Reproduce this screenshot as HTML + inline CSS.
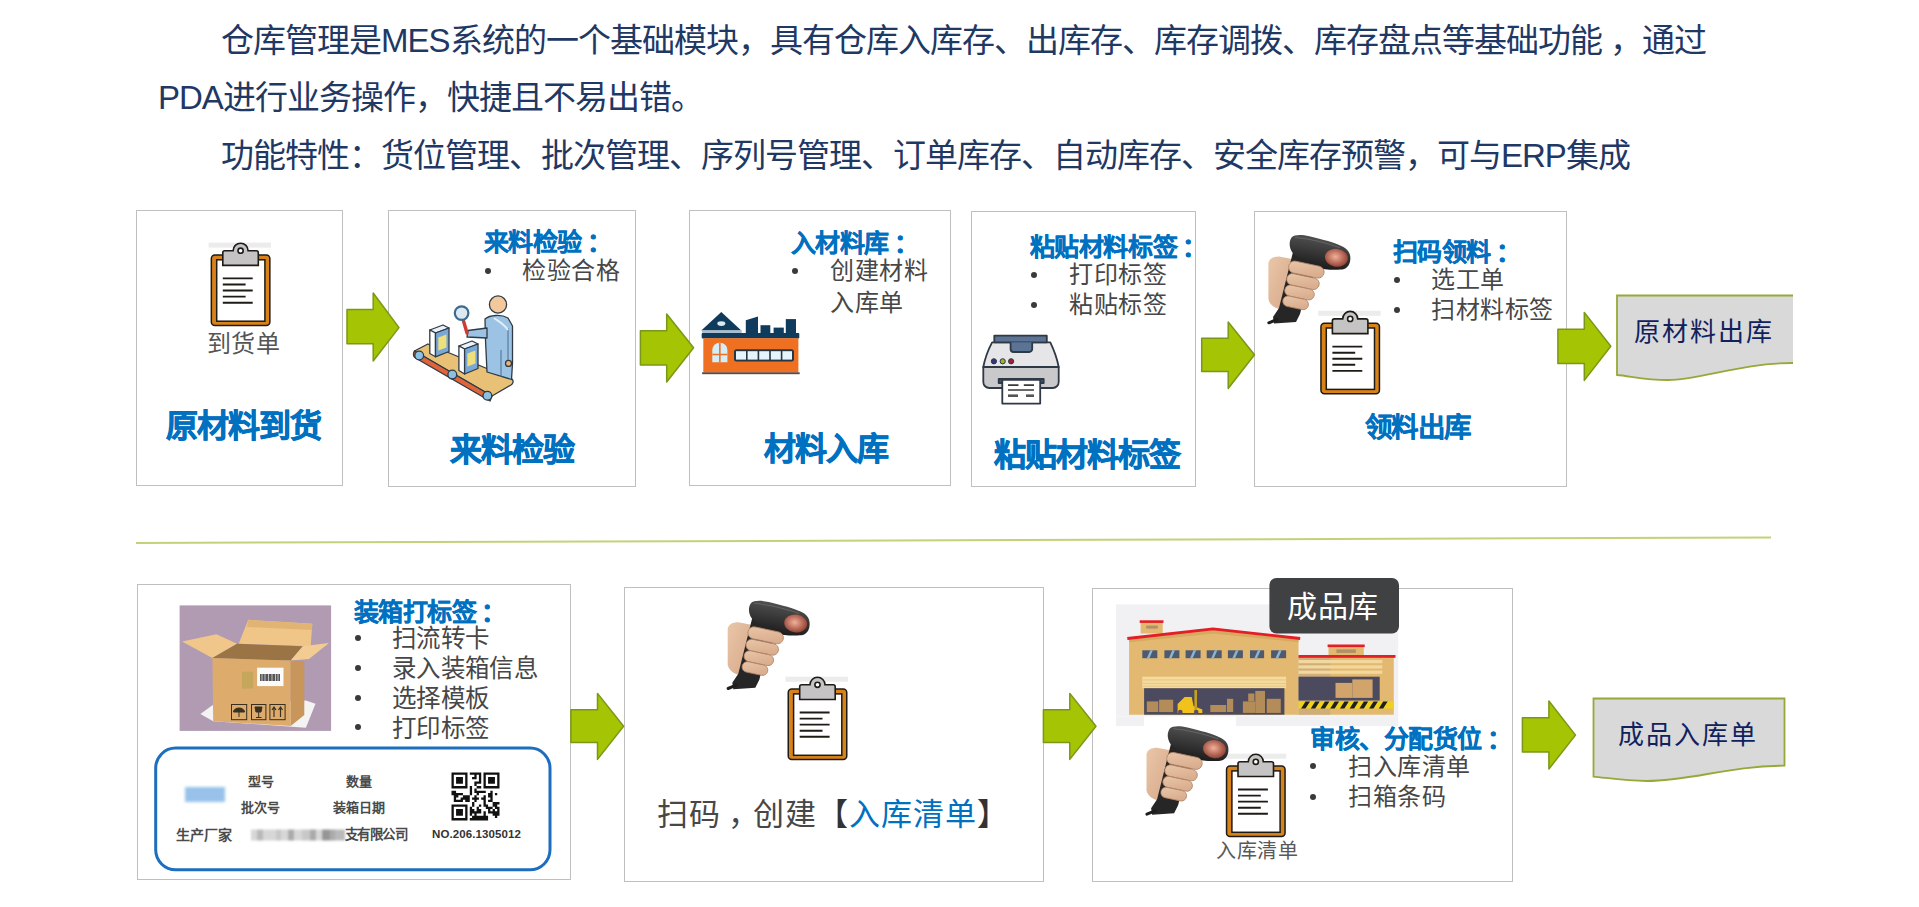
<!DOCTYPE html>
<html lang="zh-CN"><head><meta charset="utf-8">
<style>
html,body{margin:0;padding:0;background:#fff;}
body{width:1919px;height:907px;overflow:hidden;position:relative;font-family:"Liberation Sans",sans-serif;}
.t{position:absolute;white-space:nowrap;line-height:1;}
.p{color:#1f3864;font-size:33px;letter-spacing:-1px;}
.box{position:absolute;border:1px solid #bfbfbf;background:#fff;box-sizing:border-box;}
.hb{color:#0070c0;font-weight:bold;-webkit-text-stroke:0.7px #0070c0;}
.gr{color:#474747;}
.hs{-webkit-text-stroke:0.3px #0070c0 !important;}
.bul{position:absolute;width:6px;height:6px;border-radius:50%;background:#3a3a3a;}
svg{position:absolute;left:0;top:0;}
</style></head><body>

<!-- paragraph -->
<div class="t p" style="left:221px;top:23.5px;">仓库管理是MES系统的一个基础模块，具有仓库入库存、出库存、库存调拨、库存盘点等基础功能 ，通过</div>
<div class="t p" style="left:158px;top:81px;">PDA进行业务操作，快捷且不易出错。</div>
<div class="t p" style="left:221px;top:139px;">功能特性：货位管理、批次管理、序列号管理、订单库存、自动库存、安全库存预警，可与ERP集成</div>

<!-- top boxes -->
<div class="box" style="left:136px;top:210px;width:207px;height:276px;"></div>
<div class="box" style="left:388px;top:210px;width:248px;height:277px;"></div>
<div class="box" style="left:689px;top:210px;width:262px;height:276px;"></div>
<div class="box" style="left:971px;top:211px;width:225px;height:276px;"></div>
<div class="box" style="left:1254px;top:211px;width:313px;height:276px;"></div>

<!-- bottom boxes -->
<div class="box" style="left:137px;top:584px;width:434px;height:296px;"></div>
<div class="box" style="left:624px;top:587px;width:420px;height:295px;"></div>
<div class="box" style="left:1092px;top:588px;width:421px;height:294px;"></div>

<!-- ICONS -->
<svg width="1919" height="907" viewBox="0 0 1919 907">
<defs>
 <symbol id="clipb" viewBox="-3 -14 66 89" width="66" height="89" overflow="visible">
  <rect x="-2" y="-11.6" width="62.4" height="5" fill="#ececec"/>
  <rect x="0.75" y="0.75" width="58.5" height="70.5" rx="3.5" fill="#d8831a" stroke="#1e1a16" stroke-width="1.5"/>
  <rect x="6.1" y="5.6" width="48.2" height="61.4" fill="#fff" stroke="#1e1a16" stroke-width="1.5"/>
  <path d="M12.2,11.2 V-1.5 a2,2 0 0 1 2,-2 H22.5 a7.5,7.5 0 0 1 15,0 H45.7 a2,2 0 0 1 2,2 V11.2 Z" fill="#c4c4c4" stroke="#1e1a16" stroke-width="1.6"/>
  <circle cx="30" cy="-3.5" r="2.6" fill="#fff" stroke="#1e1a16" stroke-width="1.6"/>
  <path d="M12.2,24.2H42.1M12.2,30.3H35M12.2,36.3H42.1M12.2,42.4H35M12.2,48.5H42.1" stroke="#1e1a16" stroke-width="1.9"/>
 </symbol>
 <linearGradient id="hg" x1="0" y1="0" x2="0" y2="1"><stop offset="0" stop-color="#505050"/><stop offset="1" stop-color="#1c1c1c"/></linearGradient>
 <radialGradient id="lg" cx="0.45" cy="0.45" r="0.6"><stop offset="0" stop-color="#f2b09a"/><stop offset="1" stop-color="#8e3a2c"/></radialGradient>
 <linearGradient id="skin" x1="0" y1="0" x2="1" y2="1"><stop offset="0" stop-color="#e9c6a8"/><stop offset="1" stop-color="#d6a888"/></linearGradient>
 <symbol id="scan" viewBox="0 0 92 97" width="92" height="97" overflow="visible">
  <path d="M4.4,33 C5.5,28.5 9,26.5 15,26.5 L28,29 L24,52 L19,79.5 C11,79 5.5,75 4.4,69 Z" fill="url(#skin)"/>
  <path d="M29,22 L54,36 L40,68 L36,84 L32,92 L10,93.5 L9,87 L15,78 L22,50 Z" fill="#262626"/>
  <path d="M4.8,92.8 L13,89.5" stroke="#1e1e1e" stroke-width="3" stroke-linecap="round"/>
  <g transform="rotate(9 27 14)">
  <path d="M26.5,7.5 C29,4 36,3 44,3.5 C58,4.5 70,6 77,8 C83,9.5 87.5,13 88,20 C88.5,27 85,30.5 80,31.5 C72,33.5 62,34 57,33.3 C50,32.5 38,28 30,22.5 C25.5,18 24.5,12 26.5,7.5 Z" fill="url(#hg)"/>
  <path d="M30,7 C45,6 65,8 76,10" stroke="#777" stroke-width="1" fill="none" opacity="0.6"/>
  <ellipse cx="74" cy="20.5" rx="11.5" ry="9" fill="url(#lg)"/>
  </g>
  <g fill="url(#skin)" stroke="#b08468" stroke-width="0.8">
   <rect x="26" y="30" width="36" height="12" rx="6" transform="rotate(12 26 30)"/>
   <rect x="24" y="42.5" width="33" height="11.5" rx="5.7" transform="rotate(12 24 42.5)"/>
   <rect x="22" y="54" width="30" height="11" rx="5.5" transform="rotate(12 22 54)"/>
   <rect x="20" y="65" width="26" height="10.5" rx="5.2" transform="rotate(12 20 65)"/>
  </g>
 </symbol>
 <filter id="bl2" x="-5%" y="-30%" width="110%" height="160%"><feGaussianBlur stdDeviation="0.9"/></filter>
 <filter id="bl" x="-20%" y="-50%" width="140%" height="200%"><feGaussianBlur stdDeviation="1.6"/></filter>
</defs>

<!-- clipboards -->
<use href="#clipb" x="207.6" y="240.2"/>
<use href="#clipb" x="1317.2" y="308.4"/>
<use href="#clipb" x="784.5" y="674.3"/>
<use href="#clipb" x="1222.8" y="751.3"/>

<!-- scanners -->
<use href="#scan" x="1264" y="230"/>
<use href="#scan" x="723.3" y="595.7"/>
<use href="#scan" x="1142.1" y="721.3"/>

<!-- conveyor inspector -->
<g transform="translate(408,288)" stroke="#2f3a44" stroke-width="1.3" stroke-linejoin="round">
 <path d="M6.5,63 L19.8,56 L104,91 C106,93 105,96 103,97 L84,108 Z" fill="#e8c176"/>
 <path d="M6.5,63 L84,108 L82,113 L7.5,70 C5,69 5,65 6.5,63 Z" fill="#e0643a"/>
 <circle cx="11.2" cy="67.5" r="4.4" fill="#8cc0e2"/>
 <circle cx="44.3" cy="86.6" r="4.4" fill="#8cc0e2"/>
 <circle cx="79.4" cy="107.8" r="4.4" fill="#8cc0e2"/>
 <path d="M21.8,42 L35,37 L41,40 L27.5,45 Z" fill="#e8f2fa"/>
 <path d="M21.8,42 L27.5,45 L27.5,68.8 L21.8,65.5 Z" fill="#ffffff"/>
 <path d="M27.5,45 L41,40 L41,63.5 L27.5,68.8 Z" fill="#7aa8d6"/>
 <path d="M30.4,49.5 L38.4,46.5 L38.4,59.5 L30.4,62.5 Z" fill="#f0e07a" stroke="none"/>
 <path d="M50.9,58 L64,53 L70,56 L56.6,61 Z" fill="#e8f2fa"/>
 <path d="M50.9,58 L56.6,61 L56.6,86 L50.9,82.5 Z" fill="#ffffff"/>
 <path d="M56.6,61 L70,56 L70,80.5 L56.6,86 Z" fill="#7aa8d6"/>
 <path d="M59.4,65.5 L67.4,62.5 L67.4,75.5 L59.4,78.5 Z" fill="#f0e07a" stroke="none"/>
 <path d="M77,31 C82,27 93,26 100,30 L104.5,38 L104.5,75 L103.5,91.5 L79,84 L77.5,52 Z" fill="#9cc3e3"/>
 <path d="M100,40 L100,72 M93,62 L93,89" stroke="#4a6f90" stroke-width="1" fill="none"/>
 <path d="M86,30 C90,33 96,36 100,42" stroke="#e0eef8" stroke-width="2" fill="none"/>
 <path d="M79,40 L60,42.5 L59,49 L79,50 Z" fill="#9cc3e3"/>
 <circle cx="90" cy="16.5" r="8.6" fill="#f3c89c"/>
 <path d="M59,45 L55.5,33" stroke="#d03a30" stroke-width="3.4" stroke-linecap="round"/>
 <circle cx="53.6" cy="25.1" r="6.8" fill="#dce9f2" stroke="#3d6a8f" stroke-width="2.2"/>
 <circle cx="100.5" cy="75.4" r="3" fill="#f0b070"/>
</g>

<!-- factory -->
<g transform="translate(696,306)">
 <path d="M5.3,24.5 L25.3,6.1 L45.3,24.5 Z" fill="#0f3b5c"/>
 <ellipse cx="25.3" cy="17.6" rx="4" ry="2.4" fill="#dfe8ee"/>
 <rect x="6.1" y="24.3" width="39.6" height="2.8" fill="#a9bfcf"/>
 <path d="M49.8,14.3 L62,10.6 L62,27 L49.8,27 Z" fill="#0f3b5c"/>
 <rect x="64.5" y="19.2" width="9.8" height="8" fill="#0f3b5c"/>
 <rect x="77.6" y="21.6" width="10.2" height="6" fill="#0f3b5c"/>
 <rect x="89.8" y="13.1" width="10.2" height="14" fill="#0f3b5c"/>
 <rect x="5.7" y="26.9" width="97.6" height="5.5" rx="1" fill="#0f3b5c"/>
 <rect x="7.3" y="32.2" width="95.1" height="34.3" fill="#f07022"/>
 <rect x="6.1" y="66.3" width="97.6" height="1.9" fill="#5a4a42"/>
 <path d="M16.3,56.3 V44 a7.55,7.3 0 0 1 15.1,0 V56.3 Z" fill="#d4eef9"/>
 <path d="M23.85,37 V56.3 M16.3,48.5 H31.4" stroke="#f07022" stroke-width="1.6"/>
 <rect x="38" y="43.3" width="60" height="12.2" rx="2.5" fill="#263645"/>
 <rect x="40" y="45.2" width="10" height="8.4" fill="#e6f5fb"/>
 <rect x="51.6" y="45.2" width="10" height="8.4" fill="#e6f5fb"/>
 <rect x="63.2" y="45.2" width="10" height="8.4" fill="#e6f5fb"/>
 <rect x="74.8" y="45.2" width="10" height="8.4" fill="#e6f5fb"/>
 <rect x="86.4" y="45.2" width="9.6" height="8.4" fill="#e6f5fb"/>
</g>

<!-- printer -->
<g transform="translate(978,330)" stroke="#2e3945" stroke-width="1.8" stroke-linejoin="round">
 <path d="M14.1,12.3 H72.3 C76,20 79,28 80.7,37 H5.3 C7,28 10,20 14.1,12.3 Z" fill="#e6e6e8"/>
 <path d="M5.3,37 H80.7 V52 a6,6 0 0 1 -6,6 H11.3 a6,6 0 0 1 -6,-6 Z" fill="#c9c9cc"/>
 <rect x="16.3" y="5.7" width="52.5" height="6.6" fill="#5b7394"/>
 <path d="M32.6,12.3 V19 a3,3 0 0 0 3,3 H51.2 a3,3 0 0 0 3,-3 V12.3" fill="#5b7394"/>
 <rect x="20.7" y="49" width="45" height="4" fill="#3e5670"/>
 <rect x="24.3" y="49.8" width="37.9" height="23.8" fill="#fff"/>
 <path d="M30,55.1 H40.5 M45.8,55.1 H56 M30,60 H56" stroke="#3a3a3a" stroke-width="1.6"/>
 <rect x="30" y="64.4" width="10" height="2.6" fill="#555" stroke="none"/>
 <rect x="48" y="64.4" width="8" height="2.6" fill="#555" stroke="none"/>
 <circle cx="15.9" cy="31.3" r="2.6" fill="#35357a" stroke-width="1"/>
 <circle cx="24.7" cy="31.3" r="2.6" fill="#9fb222" stroke-width="1"/>
 <circle cx="33.1" cy="31.3" r="2.6" fill="#a02035" stroke-width="1"/>
</g>

<!-- cardboard box image -->
<g transform="translate(170,595)">
 <rect x="9.6" y="10.4" width="151.5" height="125.5" fill="#b09bb3"/>
 <path d="M30.4,119 L42.4,110.3 L135.9,105.5 L145.5,108.7 L135.9,132.7 L43.2,126.3 Z" fill="#f3f3f3"/>
 <path d="M12,46.4 L46.4,39.2 L67.1,48.8 L42.4,63.1 Z" fill="#f0c68a"/>
 <path d="M78.3,24.8 L142.3,28.8 L140.7,51.2 L68.7,48.8 Z" fill="#efc687"/>
 <path d="M78.3,24.8 L142.3,28.8 L141.8,35 L77,32 Z" fill="#e2b474"/>
 <path d="M42.4,63.1 L67.1,48.8 L132.7,51.2 L120.7,65.5 Z" fill="#9a7444"/>
 <path d="M120.7,65.5 L132.7,51.2 L159,48 L139,64 Z" fill="#f3cc94"/>
 <path d="M42.4,63.1 L120.7,65.5 L120.7,131 L43.2,126.3 Z" fill="#ddab6c"/>
 <path d="M120.7,65.5 L134.3,66.3 L134.3,119.9 L120.7,131 Z" fill="#c8955a"/>
 <rect x="71.9" y="76.7" width="11.2" height="16.8" fill="#c6a65a"/>
 <rect x="87.1" y="72.7" width="26.4" height="18.4" fill="#fbfbfb"/>
 <path d="M90,79 h20 v7 h-20 z" fill="#555"/>
 <path d="M92,79 v7 M95,79 v7 M98.5,79 v7 M102,79 v7 M105.5,79 v7 M108,79 v7" stroke="#ddd" stroke-width="0.8"/>
 <g fill="none" stroke="#3a3020" stroke-width="1">
  <rect x="61.5" y="109.5" width="15.2" height="15.2"/>
  <rect x="81.5" y="109.5" width="14.4" height="15.2"/>
  <rect x="99.9" y="109.5" width="15.2" height="15.2"/>
 </g>
 <path d="M63.5,117 a5.5,4 0 0 1 11,0 Z M69,117 v5" fill="#3a3020" stroke="#3a3020" stroke-width="1"/>
 <path d="M85,112 h7 l-1,5 h-5 z M88.7,117 v5 M86,122.5 h5.5" fill="#3a3020" stroke="#3a3020" stroke-width="1"/>
 <path d="M104,122 v-9 M102,115 l2,-3 l2,3 M110.5,122 v-9 M108.5,115 l2,-3 l2,3" fill="none" stroke="#3a3020" stroke-width="1.2"/>
</g>

<!-- label card -->
<rect x="155.7" y="748.1" width="394.3" height="121.7" rx="20" fill="#fff" stroke="#1e6ebf" stroke-width="3"/>
<rect x="185" y="787" width="40" height="15" fill="#98c2ea" filter="url(#bl)"/>
<g filter="url(#bl2)"><rect x="251" y="829.5" width="6" height="11" fill="rgb(215,215,215)"/><rect x="257" y="829.5" width="6" height="11" fill="rgb(185,185,185)"/><rect x="263" y="829.5" width="8" height="11" fill="rgb(215,215,215)"/><rect x="271" y="829.5" width="5" height="11" fill="rgb(215,215,215)"/><rect x="276" y="829.5" width="5" height="11" fill="rgb(200,200,200)"/><rect x="281" y="829.5" width="7" height="11" fill="rgb(215,215,215)"/><rect x="288" y="829.5" width="6" height="11" fill="rgb(170,170,170)"/><rect x="294" y="829.5" width="8" height="11" fill="rgb(215,215,215)"/><rect x="302" y="829.5" width="8" height="11" fill="rgb(200,200,200)"/><rect x="310" y="829.5" width="6" height="11" fill="rgb(170,170,170)"/><rect x="316" y="829.5" width="6" height="11" fill="rgb(215,215,215)"/><rect x="322" y="829.5" width="8" height="11" fill="rgb(150,150,150)"/><rect x="330" y="829.5" width="5" height="11" fill="rgb(170,170,170)"/><rect x="335" y="829.5" width="5" height="11" fill="rgb(185,185,185)"/><rect x="340" y="829.5" width="5" height="11" fill="rgb(185,185,185)"/></g>
<path transform="translate(451.5,772.4)" d="M0.00,0.00h2.29v2.29h-2.29zM2.29,0.00h2.29v2.29h-2.29zM4.57,0.00h2.29v2.29h-2.29zM6.86,0.00h2.29v2.29h-2.29zM9.14,0.00h2.29v2.29h-2.29zM11.43,0.00h2.29v2.29h-2.29zM13.71,0.00h2.29v2.29h-2.29zM18.29,0.00h2.29v2.29h-2.29zM20.57,0.00h2.29v2.29h-2.29zM22.86,0.00h2.29v2.29h-2.29zM25.14,0.00h2.29v2.29h-2.29zM27.43,0.00h2.29v2.29h-2.29zM32.00,0.00h2.29v2.29h-2.29zM34.29,0.00h2.29v2.29h-2.29zM36.57,0.00h2.29v2.29h-2.29zM38.86,0.00h2.29v2.29h-2.29zM41.14,0.00h2.29v2.29h-2.29zM43.43,0.00h2.29v2.29h-2.29zM45.71,0.00h2.29v2.29h-2.29zM0.00,2.29h2.29v2.29h-2.29zM13.71,2.29h2.29v2.29h-2.29zM22.86,2.29h2.29v2.29h-2.29zM27.43,2.29h2.29v2.29h-2.29zM32.00,2.29h2.29v2.29h-2.29zM45.71,2.29h2.29v2.29h-2.29zM0.00,4.57h2.29v2.29h-2.29zM4.57,4.57h2.29v2.29h-2.29zM6.86,4.57h2.29v2.29h-2.29zM9.14,4.57h2.29v2.29h-2.29zM13.71,4.57h2.29v2.29h-2.29zM20.57,4.57h2.29v2.29h-2.29zM22.86,4.57h2.29v2.29h-2.29zM27.43,4.57h2.29v2.29h-2.29zM32.00,4.57h2.29v2.29h-2.29zM36.57,4.57h2.29v2.29h-2.29zM38.86,4.57h2.29v2.29h-2.29zM41.14,4.57h2.29v2.29h-2.29zM45.71,4.57h2.29v2.29h-2.29zM0.00,6.86h2.29v2.29h-2.29zM4.57,6.86h2.29v2.29h-2.29zM6.86,6.86h2.29v2.29h-2.29zM9.14,6.86h2.29v2.29h-2.29zM13.71,6.86h2.29v2.29h-2.29zM27.43,6.86h2.29v2.29h-2.29zM32.00,6.86h2.29v2.29h-2.29zM36.57,6.86h2.29v2.29h-2.29zM38.86,6.86h2.29v2.29h-2.29zM41.14,6.86h2.29v2.29h-2.29zM45.71,6.86h2.29v2.29h-2.29zM0.00,9.14h2.29v2.29h-2.29zM4.57,9.14h2.29v2.29h-2.29zM6.86,9.14h2.29v2.29h-2.29zM9.14,9.14h2.29v2.29h-2.29zM13.71,9.14h2.29v2.29h-2.29zM22.86,9.14h2.29v2.29h-2.29zM25.14,9.14h2.29v2.29h-2.29zM27.43,9.14h2.29v2.29h-2.29zM32.00,9.14h2.29v2.29h-2.29zM36.57,9.14h2.29v2.29h-2.29zM38.86,9.14h2.29v2.29h-2.29zM41.14,9.14h2.29v2.29h-2.29zM45.71,9.14h2.29v2.29h-2.29zM0.00,11.43h2.29v2.29h-2.29zM13.71,11.43h2.29v2.29h-2.29zM22.86,11.43h2.29v2.29h-2.29zM32.00,11.43h2.29v2.29h-2.29zM45.71,11.43h2.29v2.29h-2.29zM0.00,13.71h2.29v2.29h-2.29zM2.29,13.71h2.29v2.29h-2.29zM4.57,13.71h2.29v2.29h-2.29zM6.86,13.71h2.29v2.29h-2.29zM9.14,13.71h2.29v2.29h-2.29zM11.43,13.71h2.29v2.29h-2.29zM13.71,13.71h2.29v2.29h-2.29zM18.29,13.71h2.29v2.29h-2.29zM25.14,13.71h2.29v2.29h-2.29zM27.43,13.71h2.29v2.29h-2.29zM32.00,13.71h2.29v2.29h-2.29zM34.29,13.71h2.29v2.29h-2.29zM36.57,13.71h2.29v2.29h-2.29zM38.86,13.71h2.29v2.29h-2.29zM41.14,13.71h2.29v2.29h-2.29zM43.43,13.71h2.29v2.29h-2.29zM45.71,13.71h2.29v2.29h-2.29zM18.29,16.00h2.29v2.29h-2.29zM22.86,16.00h2.29v2.29h-2.29zM0.00,18.29h2.29v2.29h-2.29zM2.29,18.29h2.29v2.29h-2.29zM18.29,18.29h2.29v2.29h-2.29zM22.86,18.29h2.29v2.29h-2.29zM25.14,18.29h2.29v2.29h-2.29zM27.43,18.29h2.29v2.29h-2.29zM29.71,18.29h2.29v2.29h-2.29zM32.00,18.29h2.29v2.29h-2.29zM38.86,18.29h2.29v2.29h-2.29zM0.00,20.57h2.29v2.29h-2.29zM2.29,20.57h2.29v2.29h-2.29zM4.57,20.57h2.29v2.29h-2.29zM6.86,20.57h2.29v2.29h-2.29zM9.14,20.57h2.29v2.29h-2.29zM18.29,20.57h2.29v2.29h-2.29zM25.14,20.57h2.29v2.29h-2.29zM36.57,20.57h2.29v2.29h-2.29zM38.86,20.57h2.29v2.29h-2.29zM43.43,20.57h2.29v2.29h-2.29zM2.29,22.86h2.29v2.29h-2.29zM4.57,22.86h2.29v2.29h-2.29zM11.43,22.86h2.29v2.29h-2.29zM13.71,22.86h2.29v2.29h-2.29zM16.00,22.86h2.29v2.29h-2.29zM22.86,22.86h2.29v2.29h-2.29zM32.00,22.86h2.29v2.29h-2.29zM36.57,22.86h2.29v2.29h-2.29zM38.86,22.86h2.29v2.29h-2.29zM2.29,25.14h2.29v2.29h-2.29zM9.14,25.14h2.29v2.29h-2.29zM11.43,25.14h2.29v2.29h-2.29zM13.71,25.14h2.29v2.29h-2.29zM16.00,25.14h2.29v2.29h-2.29zM20.57,25.14h2.29v2.29h-2.29zM22.86,25.14h2.29v2.29h-2.29zM25.14,25.14h2.29v2.29h-2.29zM29.71,25.14h2.29v2.29h-2.29zM32.00,25.14h2.29v2.29h-2.29zM38.86,25.14h2.29v2.29h-2.29zM2.29,27.43h2.29v2.29h-2.29zM4.57,27.43h2.29v2.29h-2.29zM6.86,27.43h2.29v2.29h-2.29zM9.14,27.43h2.29v2.29h-2.29zM13.71,27.43h2.29v2.29h-2.29zM16.00,27.43h2.29v2.29h-2.29zM22.86,27.43h2.29v2.29h-2.29zM32.00,27.43h2.29v2.29h-2.29zM36.57,27.43h2.29v2.29h-2.29zM38.86,27.43h2.29v2.29h-2.29zM20.57,29.71h2.29v2.29h-2.29zM32.00,29.71h2.29v2.29h-2.29zM41.14,29.71h2.29v2.29h-2.29zM43.43,29.71h2.29v2.29h-2.29zM45.71,29.71h2.29v2.29h-2.29zM0.00,32.00h2.29v2.29h-2.29zM2.29,32.00h2.29v2.29h-2.29zM4.57,32.00h2.29v2.29h-2.29zM6.86,32.00h2.29v2.29h-2.29zM9.14,32.00h2.29v2.29h-2.29zM11.43,32.00h2.29v2.29h-2.29zM13.71,32.00h2.29v2.29h-2.29zM20.57,32.00h2.29v2.29h-2.29zM27.43,32.00h2.29v2.29h-2.29zM32.00,32.00h2.29v2.29h-2.29zM34.29,32.00h2.29v2.29h-2.29zM41.14,32.00h2.29v2.29h-2.29zM43.43,32.00h2.29v2.29h-2.29zM0.00,34.29h2.29v2.29h-2.29zM13.71,34.29h2.29v2.29h-2.29zM18.29,34.29h2.29v2.29h-2.29zM25.14,34.29h2.29v2.29h-2.29zM34.29,34.29h2.29v2.29h-2.29zM36.57,34.29h2.29v2.29h-2.29zM38.86,34.29h2.29v2.29h-2.29zM43.43,34.29h2.29v2.29h-2.29zM45.71,34.29h2.29v2.29h-2.29zM0.00,36.57h2.29v2.29h-2.29zM4.57,36.57h2.29v2.29h-2.29zM6.86,36.57h2.29v2.29h-2.29zM9.14,36.57h2.29v2.29h-2.29zM13.71,36.57h2.29v2.29h-2.29zM18.29,36.57h2.29v2.29h-2.29zM20.57,36.57h2.29v2.29h-2.29zM25.14,36.57h2.29v2.29h-2.29zM27.43,36.57h2.29v2.29h-2.29zM36.57,36.57h2.29v2.29h-2.29zM41.14,36.57h2.29v2.29h-2.29zM45.71,36.57h2.29v2.29h-2.29zM0.00,38.86h2.29v2.29h-2.29zM4.57,38.86h2.29v2.29h-2.29zM6.86,38.86h2.29v2.29h-2.29zM9.14,38.86h2.29v2.29h-2.29zM13.71,38.86h2.29v2.29h-2.29zM18.29,38.86h2.29v2.29h-2.29zM20.57,38.86h2.29v2.29h-2.29zM22.86,38.86h2.29v2.29h-2.29zM25.14,38.86h2.29v2.29h-2.29zM27.43,38.86h2.29v2.29h-2.29zM32.00,38.86h2.29v2.29h-2.29zM36.57,38.86h2.29v2.29h-2.29zM38.86,38.86h2.29v2.29h-2.29zM41.14,38.86h2.29v2.29h-2.29zM43.43,38.86h2.29v2.29h-2.29zM45.71,38.86h2.29v2.29h-2.29zM0.00,41.14h2.29v2.29h-2.29zM4.57,41.14h2.29v2.29h-2.29zM6.86,41.14h2.29v2.29h-2.29zM9.14,41.14h2.29v2.29h-2.29zM13.71,41.14h2.29v2.29h-2.29zM18.29,41.14h2.29v2.29h-2.29zM22.86,41.14h2.29v2.29h-2.29zM32.00,41.14h2.29v2.29h-2.29zM41.14,41.14h2.29v2.29h-2.29zM43.43,41.14h2.29v2.29h-2.29zM45.71,41.14h2.29v2.29h-2.29zM0.00,43.43h2.29v2.29h-2.29zM13.71,43.43h2.29v2.29h-2.29zM20.57,43.43h2.29v2.29h-2.29zM22.86,43.43h2.29v2.29h-2.29zM25.14,43.43h2.29v2.29h-2.29zM27.43,43.43h2.29v2.29h-2.29zM29.71,43.43h2.29v2.29h-2.29zM32.00,43.43h2.29v2.29h-2.29zM34.29,43.43h2.29v2.29h-2.29zM43.43,43.43h2.29v2.29h-2.29zM0.00,45.71h2.29v2.29h-2.29zM2.29,45.71h2.29v2.29h-2.29zM4.57,45.71h2.29v2.29h-2.29zM6.86,45.71h2.29v2.29h-2.29zM9.14,45.71h2.29v2.29h-2.29zM11.43,45.71h2.29v2.29h-2.29zM13.71,45.71h2.29v2.29h-2.29zM18.29,45.71h2.29v2.29h-2.29zM20.57,45.71h2.29v2.29h-2.29zM22.86,45.71h2.29v2.29h-2.29zM25.14,45.71h2.29v2.29h-2.29zM27.43,45.71h2.29v2.29h-2.29zM29.71,45.71h2.29v2.29h-2.29zM32.00,45.71h2.29v2.29h-2.29zM34.29,45.71h2.29v2.29h-2.29z" fill="#111"/>

<!-- warehouse -->
<g transform="translate(1100,570)">
<rect x="15.9" y="34.4" width="282.3" height="112.0" fill="#f1f1f3" />
<rect x="15.9" y="146.4" width="28.2" height="9.7" fill="#f1f1f3" />
<rect x="135.9" y="146.4" width="162.3" height="9.7" fill="#f1f1f3" />
<path d="M29.1,67.9 L112.9,59.1 L198.5,67.9 L198.5,144.7 L29.1,144.7 Z" fill="#e3b870"/>
<path d="M29.1,67.9 L112.9,59.1 L198.5,67.9 L198.5,72.3 L112.9,63.5 L29.1,72.3 Z" fill="#d6a860"/>
<rect x="40.6" y="52.0" width="22.1" height="11.5" fill="#e3b870" />
<rect x="46.2" y="55.6" width="11.6" height="3.0" fill="#b09068" />
<rect x="39.7" y="50.3" width="23.8" height="2.6" fill="#e31e24" />
<path d="M27.3,68.5 L112.9,58.8 L200.2,68.5" stroke="#e31e24" stroke-width="2.8" fill="none"/>
<rect x="42.3" y="80.3" width="15.0" height="7.9" fill="#4d5a70" />
<path d="M46.8,88.2 L50.3,80.3 L52.9,80.3 L49.4,88.2 Z" fill="#8fb4d0"/>
<rect x="64.4" y="80.3" width="15.0" height="7.9" fill="#4d5a70" />
<path d="M68.8,88.2 L72.3,80.3 L75.0,80.3 L71.5,88.2 Z" fill="#8fb4d0"/>
<rect x="85.6" y="80.3" width="15.0" height="7.9" fill="#4d5a70" />
<path d="M90.0,88.2 L93.5,80.3 L96.2,80.3 L92.6,88.2 Z" fill="#8fb4d0"/>
<rect x="106.7" y="80.3" width="15.0" height="7.9" fill="#4d5a70" />
<path d="M111.2,88.2 L114.7,80.3 L117.3,80.3 L113.8,88.2 Z" fill="#8fb4d0"/>
<rect x="127.9" y="80.3" width="15.0" height="7.9" fill="#4d5a70" />
<path d="M132.3,88.2 L135.9,80.3 L138.5,80.3 L135.0,88.2 Z" fill="#8fb4d0"/>
<rect x="150.0" y="80.3" width="14.1" height="7.9" fill="#4d5a70" />
<path d="M154.4,88.2 L157.9,80.3 L160.6,80.3 L157.0,88.2 Z" fill="#8fb4d0"/>
<rect x="171.1" y="80.3" width="15.0" height="7.9" fill="#4d5a70" />
<path d="M175.5,88.2 L179.1,80.3 L181.7,80.3 L178.2,88.2 Z" fill="#8fb4d0"/>
<rect x="42.3" y="106.7" width="143.8" height="11.5" fill="#f5dc9e" />
<rect x="42.3" y="109.4" width="143.8" height="1.1" fill="#e8c888" />
<rect x="42.3" y="112.9" width="143.8" height="1.1" fill="#e8c888" />
<rect x="42.3" y="115.6" width="143.8" height="1.1" fill="#e8c888" />
<rect x="44.1" y="118.2" width="140.3" height="26.5" fill="#4b4a5e" />
<rect x="46.8" y="131.4" width="11.5" height="10.6" fill="#b48c5a" />
<rect x="59.1" y="129.7" width="14.1" height="12.4" fill="#b48c5a" />
<rect x="110.3" y="135.0" width="15.9" height="7.1" fill="#b48c5a" />
<rect x="127.0" y="128.8" width="6.2" height="13.2" fill="#b48c5a" />
<rect x="142.9" y="131.4" width="12.4" height="11.5" fill="#b48c5a" />
<rect x="148.2" y="123.5" width="6.2" height="7.9" fill="#b48c5a" />
<rect x="155.3" y="120.9" width="9.7" height="22.1" fill="#b48c5a" />
<rect x="166.7" y="128.8" width="14.1" height="14.1" fill="#b48c5a" />
<path d="M77.6,142.9 L77.6,134.1 L84.7,127.0 L91.7,127.0 L93.5,135.9 L102.3,139.4 L102.3,142.9 Z" fill="#f1c21c"/>
<rect x="94.4" y="120.0" width="2.6" height="21.2" fill="#c8a020" />
<circle cx="80.3" cy="142.0" r="2.3" fill="#5a4a70"/><circle cx="96.2" cy="142.0" r="2.3" fill="#5a4a70"/>
<rect x="198.5" y="86.5" width="95.3" height="58.2" fill="#e3b870" />
<rect x="198.5" y="86.5" width="31.8" height="58.2" fill="#cfae7c" />
<rect x="228.5" y="75.9" width="35.3" height="10.9" fill="#e3b870" />
<rect x="236.4" y="79.4" width="19.4" height="3.5" fill="#b09068" />
<rect x="227.6" y="74.5" width="37.1" height="2.6" fill="#e31e24" />
<rect x="198.5" y="85.0" width="97.0" height="2.8" fill="#e31e24" />
<rect x="198.5" y="90.0" width="83.8" height="3.2" fill="#f2d89c" />
<rect x="198.5" y="95.3" width="83.8" height="3.2" fill="#f2d89c" />
<rect x="198.5" y="100.6" width="83.8" height="3.2" fill="#f2d89c" />
<rect x="198.5" y="106.7" width="81.2" height="23.8" fill="#4b4a5e" />
<rect x="235.5" y="112.9" width="16.8" height="15.0" fill="#d0a46a" />
<rect x="252.3" y="109.4" width="20.3" height="18.5" fill="#d0a46a" />
<rect x="198.5" y="131.4" width="95.3" height="7.1" fill="#f0d21c" />
<path d="M201.1,138.5 L205.5,131.4 L210.0,131.4 L205.5,138.5 Z" fill="#1e1e1e"/><path d="M210.8,138.5 L215.2,131.4 L219.7,131.4 L215.2,138.5 Z" fill="#1e1e1e"/><path d="M220.5,138.5 L224.9,131.4 L229.4,131.4 L224.9,138.5 Z" fill="#1e1e1e"/><path d="M230.2,138.5 L234.7,131.4 L239.1,131.4 L234.7,138.5 Z" fill="#1e1e1e"/><path d="M239.9,138.5 L244.4,131.4 L248.8,131.4 L244.4,138.5 Z" fill="#1e1e1e"/><path d="M249.6,138.5 L254.1,131.4 L258.5,131.4 L254.1,138.5 Z" fill="#1e1e1e"/><path d="M259.4,138.5 L263.8,131.4 L268.2,131.4 L263.8,138.5 Z" fill="#1e1e1e"/><path d="M269.1,138.5 L273.5,131.4 L277.9,131.4 L273.5,138.5 Z" fill="#1e1e1e"/><path d="M278.8,138.5 L283.2,131.4 L287.6,131.4 L283.2,138.5 Z" fill="#1e1e1e"/>
</g>
<rect x="1269.4" y="578" width="129.6" height="55.5" rx="7" fill="#404142"/>
</svg>

<!-- overlay shapes -->
<svg width="1919" height="907" viewBox="0 0 1919 907">
  <line x1="136" y1="543" x2="1771" y2="537.5" stroke="#c3d27a" stroke-width="2"/>
  <g fill="#a5c404" stroke="#7a9818" stroke-width="1.5" stroke-linejoin="round">
    <polygon points="347,309.6 373.2,309.6 373.2,293 399,327.6 373.2,361 373.2,343.7 347,343.7"/>
    <polygon points="640.4,330.8 666.7,330.8 666.7,314 693.6,347.7 666.7,382 666.7,365 640.4,365"/>
    <polygon points="1201.7,338.3 1228.2,338.3 1228.2,322 1254.5,354.7 1228.2,388.5 1228.2,371.6 1201.7,371.6"/>
    <polygon points="1557.9,329.3 1584.3,329.3 1584.3,312.4 1610.8,346.2 1584.3,380.4 1584.3,363.6 1557.9,363.6"/>
    <polygon points="570.9,709.8 597.5,709.8 597.5,693.4 623.6,726.2 597.5,759.4 597.5,742.6 570.9,742.6"/>
    <polygon points="1043.4,709.8 1069.8,709.8 1069.8,693.4 1096,726.2 1069.8,759.4 1069.8,742.6 1043.4,742.6"/>
    <polygon points="1522.4,717.8 1548.9,717.8 1548.9,701 1575.5,735.1 1548.9,769 1548.9,752 1522.4,752"/>
  </g>
  <path d="M1617,295.5 L1793,295.5 L1793,363 C1740,363 1700,380 1668,380 C1645,380 1630,376 1617,375 Z" fill="#d9d9d9" stroke="none"/>
  <path d="M1793,295.5 L1617,295.5 L1617,375 C1630,376 1645,380 1668,380 C1700,380 1740,363 1793,363" fill="none" stroke="#94aa38" stroke-width="1.8"/>
  <path d="M1593.5,698.5 L1784.5,698.5 L1784.5,765.7 C1730,765.7 1690,781 1646.7,781 C1625,781 1608,778 1593.5,776.6 Z" fill="#d9d9d9" stroke="#94aa38" stroke-width="1.8"/>
</svg>

<!-- TEXTS -->
<div class="t" style="left:248px;top:775px;font-size:13px;font-weight:bold;color:#4a4a4a">型号</div>
<div class="t" style="left:346px;top:775px;font-size:13px;font-weight:bold;color:#4a4a4a">数量</div>
<div class="t" style="left:241px;top:801px;font-size:13px;font-weight:bold;color:#4a4a4a">批次号</div>
<div class="t" style="left:333px;top:801px;font-size:13px;font-weight:bold;color:#4a4a4a">装箱日期</div>
<div class="t" style="left:176px;top:828px;font-size:14px;font-weight:bold;color:#4a4a4a">生产厂家</div>
<div class="t" style="left:345px;top:828px;font-size:13.5px;font-weight:bold;color:#4a4a4a;letter-spacing:-0.6px">支有限公司</div>
<div class="t" style="left:432px;top:829px;font-size:11.5px;font-weight:bold;color:#333;letter-spacing:0.1px">NO.206.1305012</div>


<div class="t gr" style="left:207px;top:332px;font-size:24px;letter-spacing:0.4px;color:#555">到货单</div>
<div class="t hb" style="left:165.5px;top:409.5px;font-size:32px;letter-spacing:-1px;">原材料到货</div>
<div class="t hb hs" style="left:483.5px;top:230px;font-size:25px;letter-spacing:-0.4px;">来料检验<span style="margin-left:5px">：</span></div>
<div class="t gr" style="left:522px;top:258.8px;font-size:24px;letter-spacing:0.6px;">检验合格</div>
<div class="t hb" style="left:449.5px;top:433.5px;font-size:32px;letter-spacing:-1px;">来料检验</div>
<div class="t hb hs" style="left:790.5px;top:231px;font-size:25px;letter-spacing:-0.4px;">入材料库<span style="margin-left:5px">：</span></div>
<div class="t gr" style="left:830px;top:258.8px;font-size:24px;letter-spacing:0.6px;">创建材料</div>
<div class="t gr" style="left:830px;top:290.8px;font-size:24px;letter-spacing:0.6px;">入库单</div>
<div class="t hb" style="left:763.5px;top:432.5px;font-size:32px;letter-spacing:-1px;">材料入库</div>
<div class="t hb hs" style="left:1029.5px;top:235px;font-size:25px;letter-spacing:-0.4px;">粘贴材料标签<span style="margin-left:5px">：</span></div>
<div class="t gr" style="left:1069px;top:262.8px;font-size:24px;letter-spacing:0.6px;">打印标签</div>
<div class="t gr" style="left:1069px;top:292.8px;font-size:24px;letter-spacing:0.6px;">粘贴标签</div>
<div class="t hb" style="left:993.5px;top:438.5px;font-size:32px;letter-spacing:-1px;">粘贴材料标签</div>
<div class="t hb hs" style="left:1392.5px;top:240px;font-size:25px;letter-spacing:-0.4px;">扫码领料<span style="margin-left:5px">：</span></div>
<div class="t gr" style="left:1431px;top:267.8px;font-size:24px;letter-spacing:0.6px;">选工单</div>
<div class="t gr" style="left:1431px;top:297.8px;font-size:24px;letter-spacing:0.6px;">扫材料标签</div>
<div class="t hb hs" style="left:1364.5px;top:414px;font-size:27.5px;letter-spacing:-0.4px;">领料出库</div>
<div class="t" style="left:1634px;top:318.5px;font-size:26px;letter-spacing:2.1px;color:#10225e">原材料出库</div>
<div class="t" style="left:1618px;top:721.5px;font-size:26px;letter-spacing:2.1px;color:#10225e">成品入库单</div>
<div class="t hb hs" style="left:353.5px;top:599.5px;font-size:25px;letter-spacing:-0.5px;">装箱打标签<span style="margin-left:5px">：</span></div>
<div class="t gr" style="left:392px;top:627px;font-size:24.5px;letter-spacing:0.35px;">扫流转卡</div>
<div class="t gr" style="left:392px;top:657px;font-size:24.5px;letter-spacing:0.35px;">录入装箱信息</div>
<div class="t gr" style="left:392px;top:687px;font-size:24.5px;letter-spacing:0.35px;">选择模板</div>
<div class="t gr" style="left:392px;top:717px;font-size:24.5px;letter-spacing:0.35px;">打印标签</div>
<div class="t gr" style="left:656.5px;top:798.5px;font-size:31px;letter-spacing:1px;">扫码<span style="position:relative;left:7px">，</span>创建<span style="color:#333">【</span><span style="color:#0070c0">入库清单</span><span style="color:#333">】</span></div>
<div class="t" style="left:1287px;top:592px;font-size:30px;letter-spacing:0.5px;color:#fff;z-index:3">成品库</div>
<div class="t" style="left:1216px;top:841px;font-size:20px;letter-spacing:0.5px;color:#595959">入库清单</div>
<div class="t hb hs" style="left:1310px;top:727px;font-size:25px;letter-spacing:-0.5px;">审核、分配货位<span style="margin-left:5px">：</span></div>
<div class="t gr" style="left:1348px;top:754.8px;font-size:24px;letter-spacing:0.6px;">扫入库清单</div>
<div class="t gr" style="left:1348px;top:784.8px;font-size:24px;letter-spacing:0.6px;">扫箱条码</div>
<div class="bul" style="left:484.7px;top:267.5px"></div>
<div class="bul" style="left:792.3px;top:267.6px"></div>
<div class="bul" style="left:1031.1px;top:271.7px"></div>
<div class="bul" style="left:1031.1px;top:301.9px"></div>
<div class="bul" style="left:1394.4px;top:277.0px"></div>
<div class="bul" style="left:1394.4px;top:307.1px"></div>
<div class="bul" style="left:354.6px;top:634.6px"></div>
<div class="bul" style="left:354.6px;top:664.6px"></div>
<div class="bul" style="left:354.6px;top:694.6px"></div>
<div class="bul" style="left:354.6px;top:723.7px"></div>
<div class="bul" style="left:1310.2px;top:763.3px"></div>
<div class="bul" style="left:1310.2px;top:793.6px"></div>


</body></html>
